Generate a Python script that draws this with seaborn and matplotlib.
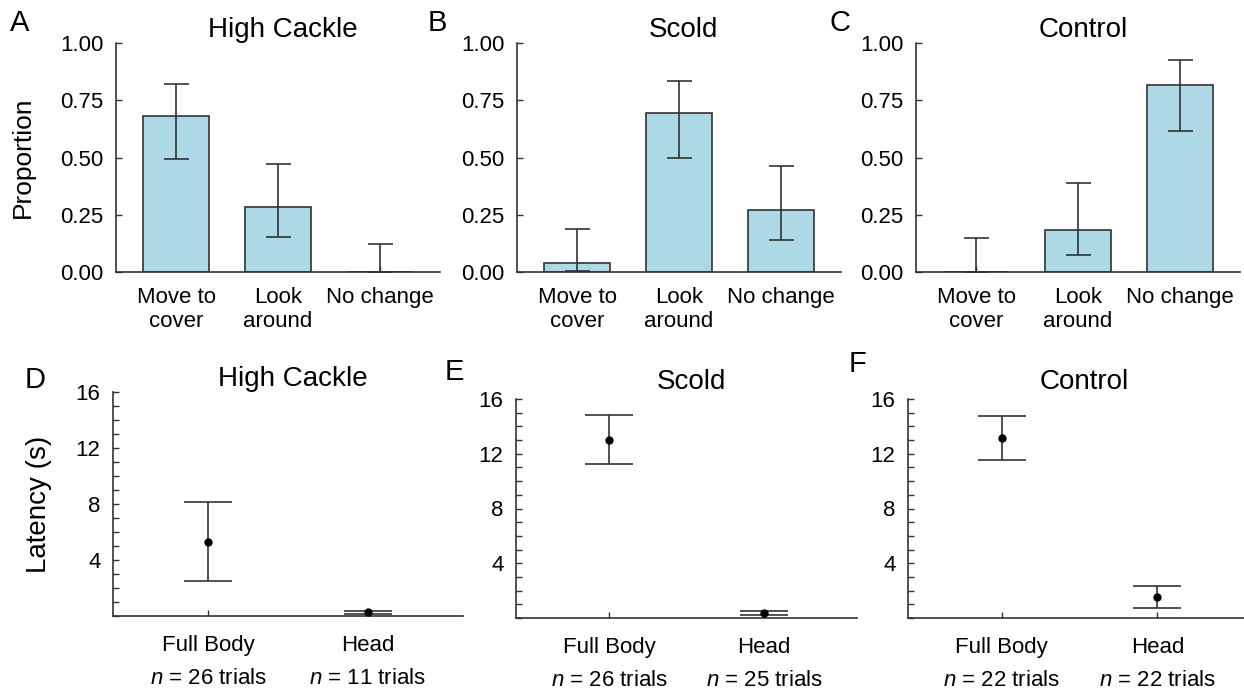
import numpy as np
import pandas as pd
import matplotlib
matplotlib.use('Agg')
import matplotlib.pyplot as plt
from matplotlib.ticker import MultipleLocator
import seaborn as sns

# DATA
behaviours = ['Move to\ncover', 'Look\naround', 'No change']
playbacks = ['High Cackle', 'Scold', 'Control']

prop_cackle = [0.68, 0.286, 0.0]
prop_cackle_lo = [0.494, 0.154, 0.0]
prop_cackle_hi = [0.82, 0.472, 0.122]

prop_scold = [0.04, 0.694, 0.27]
prop_scold_lo = [0.004, 0.50, 0.139]
prop_scold_hi = [0.189, 0.836, 0.463]

prop_control = [0.0, 0.183, 0.818]
prop_control_lo = [0.0, 0.075, 0.614]
prop_control_hi = [0.148, 0.387, 0.927]

orient = ['Full Body', 'Head']
lat_cackle = [5.31, 0.29]
lat_cackle_lo = [2.5, 0.14]
lat_cackle_hi = [8.12, 0.38]
n_cackle = [26, 11]

lat_scold = [13.04, 0.39]
lat_scold_lo = [11.25, 0.25]
lat_scold_hi = [14.8, 0.54]
n_scold = [26, 25]

lat_control = [13.17, 1.55]
lat_control_lo = [11.55, 0.76]
lat_control_hi = [14.79, 2.33]
n_control = [22, 22]

# STYLE
sns.set_style('ticks')
plt.rcParams['font.family'] = ['Liberation Sans', 'DejaVu Sans']
plt.rcParams['mathtext.fontset'] = 'custom'
plt.rcParams['mathtext.it'] = 'Liberation Sans:italic'
plt.rcParams['mathtext.rm'] = 'Liberation Sans'
plt.rcParams['text.color'] = 'black'
plt.rcParams['axes.labelcolor'] = 'black'
plt.rcParams['axes.titlecolor'] = 'black'
LINE = '#333333'
BAR = '#ADD8E6'

W, H = 1244, 690
fig = plt.figure(figsize=(W / 100, H / 100), dpi=100)


def px_axes(left, top, right, bottom):
    return fig.add_axes([left / W, 1 - bottom / H, (right - left) / W, (bottom - top) / H])


def style_axes(ax):
    sns.despine(ax=ax)
    for s in ['left', 'bottom']:
        ax.spines[s].set_color(LINE)
        ax.spines[s].set_linewidth(1.2)
    ax.tick_params(direction='in', length=4, width=1.0, color=LINE,
                   labelsize=16, labelcolor='black')
    ax.set_xlabel('')
    ax.set_ylabel('')


# -------------------------
# TOP ROW: PROPORTIONS
# -------------------------
top_data = [
    (prop_cackle, prop_cackle_lo, prop_cackle_hi),
    (prop_scold, prop_scold_lo, prop_scold_hi),
    (prop_control, prop_control_lo, prop_control_hi),
]
top_boxes = [(116, 43, 440, 272), (517, 43, 841, 272), (916, 43, 1240, 272)]

for i, (vals, lo, hi) in enumerate(top_data):
    ax = px_axes(*top_boxes[i])
    df = pd.DataFrame({'behaviour': behaviours, 'prop': vals})
    sns.barplot(data=df, x='behaviour', y='prop', color=BAR, saturation=1,
                edgecolor=LINE, linewidth=1.2, width=0.65, errorbar=None, ax=ax)
    yerr = [np.array(vals) - np.array(lo), np.array(hi) - np.array(vals)]
    ax.errorbar(np.arange(len(vals)), vals, yerr=yerr, fmt='none',
                ecolor=LINE, elinewidth=1.2, capsize=9, capthick=1.2)
    style_axes(ax)
    ax.set_xlim(-0.59, 2.59)
    ax.set_ylim(0, 1)
    ax.set_yticks([0, 0.25, 0.5, 0.75, 1.0])
    ax.set_yticklabels(['0.00', '0.25', '0.50', '0.75', '1.00'])
    ax.set_xticks(range(3))
    ax.set_xticklabels(behaviours, linespacing=1.2)
    ax.tick_params(axis='y', pad=9)
    ax.tick_params(axis='x', pad=11)
    ax.set_title(playbacks[i], fontsize=20, pad=4.5, x=0.515)
    if i == 0:
        ax.set_ylabel('Proportion', fontsize=19)
        ax.yaxis.set_label_coords(-0.25, 0.5)

# -------------------------
# BOTTOM ROW: LATENCY
# -------------------------
bot_data = [
    (lat_cackle, lat_cackle_lo, lat_cackle_hi, n_cackle),
    (lat_scold, lat_scold_lo, lat_scold_hi, n_scold),
    (lat_control, lat_control_lo, lat_control_hi, n_control),
]
bot_boxes = [(113, 392, 463, 616), (516, 399, 857, 618), (908, 399, 1251, 618)]
title_pads = [1.5, 7, 7]

for i, (vals, lo, hi, ns) in enumerate(bot_data):
    ax = px_axes(*bot_boxes[i])
    df = pd.DataFrame({'orient': orient, 'lat': vals})
    sns.stripplot(data=df, x='orient', y='lat', jitter=False, color='black',
                  size=6, zorder=5, ax=ax)
    yerr = [np.array(vals) - np.array(lo), np.array(hi) - np.array(vals)]
    ax.errorbar(np.arange(len(vals)), vals, yerr=yerr, fmt='none',
                ecolor=LINE, elinewidth=1.2, capsize=17, capthick=1.2)
    style_axes(ax)
    ax.set_xlim(-0.6, 1.6)
    ax.set_ylim(0, 16)
    ax.set_yticks([4, 8, 12, 16])
    ax.yaxis.set_minor_locator(MultipleLocator(1))
    ax.tick_params(axis='y', which='minor', direction='in', length=4,
                   width=1.0, color=LINE)
    ax.set_xticks(range(2))
    ax.set_xticklabels([f'{o}\n$n$ = {n} trials' for o, n in zip(orient, ns)],
                       linespacing=1.75)
    ax.tick_params(axis='y', pad=9)
    ax.tick_params(axis='x', pad=14)
    ax.set_title(playbacks[i], fontsize=20, pad=title_pads[i], x=0.515)
    if i == 0:
        ax.set_ylabel('Latency (s)', fontsize=20)
        ax.yaxis.set_label_coords(-0.175, 0.5)

# PANEL LETTERS
letters = ['A', 'B', 'C', 'D', 'E', 'F']
letter_pos = [(20, 23), (437, 23), (840, 23), (35, 380), (454, 372), (857, 364)]
for lab, (x, y) in zip(letters, letter_pos):
    fig.text(x / W, 1 - y / H, lab, fontsize=21, ha='center', va='center')

fig.savefig('out.png', dpi=100)
